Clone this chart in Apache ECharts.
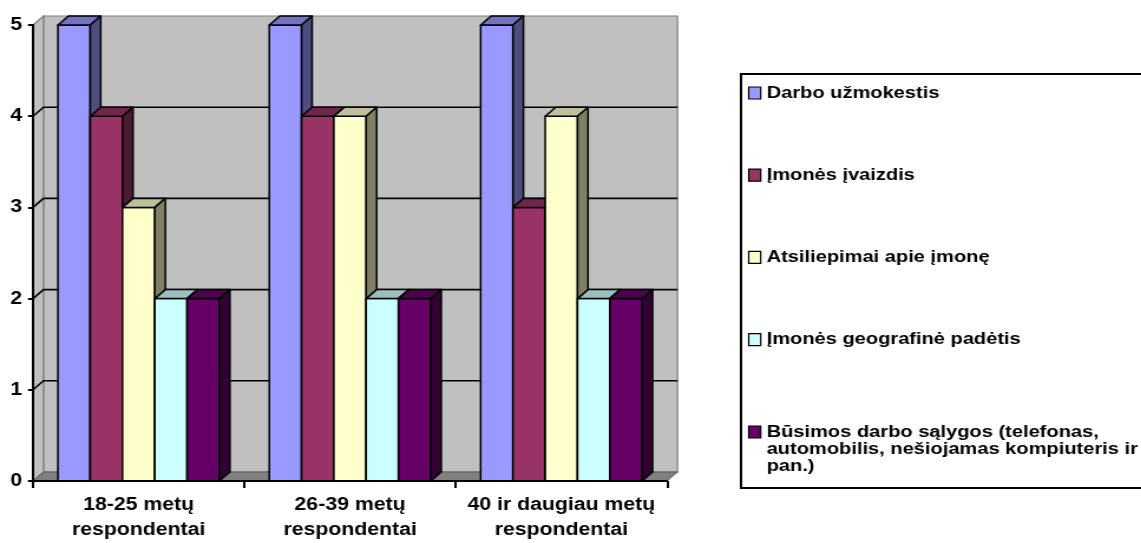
<!DOCTYPE html>
<html>
<head>
<meta charset="utf-8">
<script src="https://cdn.jsdelivr.net/npm/echarts@6/dist/echarts.min.js"></script>
<style>
  html, body { margin: 0; padding: 0; background: #fff; overflow: hidden; width: 1141px; height: 543px; }
  /* the chart is laid out narrower and widened horizontally, giving the wide bold lettering */
  #chart { width: 967px; height: 543px; transform: scaleX(1.18); transform-origin: 0 0; }
</style>
</head>
<body>
<div id="chart"></div>
<script>
// ---- data ----
const categories = ['18-25 metų\nrespondentai', '26-39 metų\nrespondentai', '40 ir daugiau metų\nrespondentai'];
const darboUzmokestis = [5, 5, 5];
const imonesIvaizdis = [4, 4, 3];
const atsiliepimai = [3, 4, 4];
const geografinePadetis = [2, 2, 2];
const busimosSalygos = [2, 2, 2];
const yTicks = [0, 1, 2, 3, 4, 5];
const busimosLines = ['Būsimos darbo sąlygos (telefonas,', 'automobilis, nešiojamas kompiuteris ir', 'pan.)'];
const seriesNames = ['Darbo užmokestis', 'Įmonės įvaizdis', 'Atsiliepimai apie įmonę', 'Įmonės geografinė padėtis', busimosLines.join(' ')];
const seriesValues = [darboUzmokestis, imonesIvaizdis, atsiliepimai, geografinePadetis, busimosSalygos];

// ---- styling ----
const S = 1.18;                 // horizontal stretch applied to the container
const X = px => px / S;         // page x distance -> chart units
const DX = X(10.5), DY = 9;     // depth offset of the 3D box
const GROUP_FRAC = 0.764;       // share of each category band used by the bars
const colors = ['#9999FF', '#993366', '#FFFFCC', '#CCFFFF', '#660066'];
const FONT = '"Liberation Sans", Arial, sans-serif';

function shade(hex, f) {
  const n = parseInt(hex.slice(1), 16);
  const r = Math.round(((n >> 16) & 255) * f);
  const g = Math.round(((n >> 8) & 255) * f);
  const b = Math.round((n & 255) * f);
  return 'rgb(' + r + ',' + g + ',' + b + ')';
}

// walls, floor and gridlines of the 3D box
function renderWalls(params, api) {
  const cs = params.coordSys;
  const L = cs.x, R = cs.x + cs.width, T = cs.y, B = cs.y + cs.height;
  const children = [
    { type: 'rect', shape: { x: L + DX, y: T - DY, width: R - L, height: B - T },
      style: { fill: '#C0C0C0', stroke: '#808080', lineWidth: 1.2 } },
    { type: 'polygon', shape: { points: [[L, T], [L + DX, T - DY], [L + DX, B - DY], [L, B]] },
      style: { fill: '#C0C0C0', stroke: '#808080', lineWidth: 1.2 } },
    { type: 'polygon', shape: { points: [[L, B], [L + DX, B - DY], [R + DX, B - DY], [R, B]] },
      style: { fill: '#808080', stroke: '#5a5a5a', lineWidth: 1 } }
  ];
  const maxV = yTicks[yTicks.length - 1];
  yTicks.forEach(v => {
    if (v <= 0 || v >= maxV) return;
    const y = api.coord([0, v])[1];
    children.push({ type: 'polyline', shape: { points: [[L, y], [L + DX, y - DY], [R + DX, y - DY]] },
      style: { stroke: '#000', lineWidth: 1.6, fill: null } });
  });
  return { type: 'group', children };
}

// one 3D column: front face, top face, right side
function barRenderer(k, n) {
  return function (params, api) {
    const ci = api.value(0), v = api.value(1);
    const top = api.coord([ci, v]);
    const base = api.coord([ci, 0]);
    const band = api.size([1, 0])[0];
    const groupW = band * GROUP_FRAC;
    const w = groupW / n;
    const x0 = top[0] - groupW / 2 + k * w;
    const yT = top[1], yB = base[1];
    const c = colors[k];
    const line = { stroke: '#000', lineWidth: 1.5, lineJoin: 'round' };
    return { type: 'group', children: [
      { type: 'rect', shape: { x: x0, y: yT, width: w, height: yB - yT },
        style: Object.assign({ fill: c }, line) },
      { type: 'polygon', shape: { points: [[x0, yT], [x0 + DX, yT - DY], [x0 + w + DX, yT - DY], [x0 + w, yT]] },
        style: Object.assign({ fill: shade(c, 0.75) }, line) },
      { type: 'polygon', shape: { points: [[x0 + w, yT], [x0 + w + DX, yT - DY], [x0 + w + DX, yB - DY], [x0 + w, yB]] },
        style: Object.assign({ fill: shade(c, 0.5) }, line) }
    ] };
  };
}

const chart = echarts.init(document.getElementById('chart'), null, { renderer: 'canvas' });

const series = [{
  type: 'custom', name: '__box', silent: true, z: 1,
  renderItem: renderWalls, data: [[0, 0]], encode: { x: 0, y: 1 }
}];
seriesNames.forEach((name, k) => {
  series.push({
    type: 'custom', name, z: 2,
    itemStyle: { color: colors[k] },
    renderItem: barRenderer(k, seriesNames.length),
    data: seriesValues[k].map((v, i) => [i, v]),
    encode: { x: 0, y: 1 }
  });
});

const textBase = { fontFamily: FONT, fontSize: 17, fontWeight: 'bold', color: '#000' };
const axisText = Object.assign({}, textBase, { fontSize: 18 });

chart.setOption({
  animation: false,
  grid: { left: X(33), right: X(1141 - 667), top: 25, bottom: 543 - 482, containLabel: false },
  xAxis: {
    type: 'category', data: categories, z: 10,
    axisLine: { show: true, lineStyle: { color: '#000', width: 2 } },
    axisTick: { show: true, alignWithLabel: false, length: 7, lineStyle: { color: '#000', width: 2 } },
    axisLabel: Object.assign({ interval: 0, margin: 12, lineHeight: 25, align: 'center' }, axisText),
    splitLine: { show: false }
  },
  yAxis: {
    type: 'value', min: yTicks[0], max: yTicks[yTicks.length - 1], interval: 1, z: 10,
    axisLine: { show: true, lineStyle: { color: '#000', width: 2 } },
    axisTick: { show: true, length: X(5), lineStyle: { color: '#000', width: 2 } },
    axisLabel: Object.assign({ margin: X(11) }, axisText),
    splitLine: { show: false }
  },
  graphic: [{
    type: 'rect', z: 0,
    shape: { x: X(741), y: 74, width: X(460), height: 414 },
    style: { fill: '#fff', stroke: '#000', lineWidth: 2 }
  }],
  legend: [{
    data: seriesNames.slice(0, 4),
    orient: 'vertical', left: X(748), top: 84.5, padding: 0,
    icon: 'rect', itemWidth: X(12), itemHeight: 12, itemGap: 65.2,
    itemStyle: { borderColor: '#000', borderWidth: 1.2 },
    textStyle: Object.assign({ lineHeight: 17 }, textBase)
  }, {
    data: seriesNames.slice(4),
    orient: 'vertical', left: X(748), top: 389.5, padding: 0,
    icon: 'rect', itemWidth: X(12), itemHeight: 12,
    itemStyle: { borderColor: '#000', borderWidth: 1.2 },
    // two blank lines above keep the key beside the first line of the wrapped name
    formatter: () => '\n\n' + busimosLines.join('\n'),
    textStyle: Object.assign({ lineHeight: 17 }, textBase)
  }],
  series
});
</script>
</body>
</html>
